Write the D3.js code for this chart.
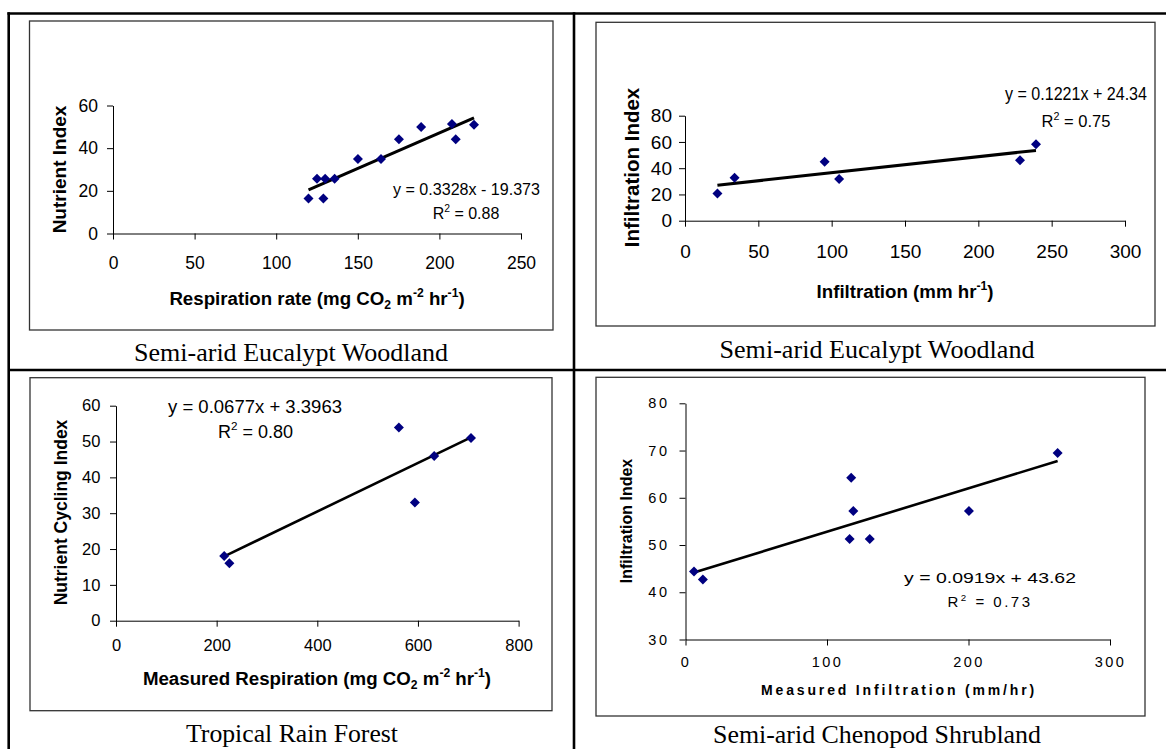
<!DOCTYPE html>
<html>
<head>
<meta charset="utf-8">
<script src="https://cdn.jsdelivr.net/npm/d3@7"></script>
<style>
  body { margin: 0; background: #fff; }
  svg { display: block; }
  text { font-family: "Liberation Sans", Arial, sans-serif; fill: #000; white-space: pre; }
  .caption { font-family: "Liberation Serif", "Times New Roman", serif; }
  .frame { fill: none; stroke: #333; stroke-width: 1.3; }
  .grid-line { stroke: #000; stroke-width: 2.6; }
  .axis path, .axis line { stroke: #000; stroke-width: 1; }
</style>
</head>
<body>
<svg id="chart" width="1166" height="749"></svg>
<script>
// ---- data ----
const respRate        = [119.8, 125, 128.9, 130, 135.8, 150.1, 164.2, 175.2, 188.8, 207.7, 210, 221.2];
const nutrientIndex   = [16.4, 25.7, 16.4, 25.7, 25.7, 34.9, 34.9, 44.2, 49.9, 51.3, 44.2, 51];

const infiltration      = [22.1, 33.8, 95.2, 105.1, 228.4, 239.3];
const infiltrationIndex = [20.8, 32.8, 45, 31.7, 46, 58.2];

const measuredResp    = [215, 225.3, 562.1, 593.9, 632.3, 705.4];
const nutrientCycling = [18.05, 16, 53.95, 33, 45.95, 50.98];

const measuredInfil   = [6, 12.3, 116, 117.1, 118.6, 130.2, 200.3, 263];
const shrubInfilIndex = [44.4, 42.7, 51.3, 64.25, 57.2, 51.3, 57.2, 69.5];

const slopes     = [0.3328, 0.1221, 0.0677, 0.0919];
const intercepts = [-19.373, 24.34, 3.3963, 43.62];
const equations  = ['y = 0.3328x - 19.373', 'y = 0.1221x + 24.34', 'y = 0.0677x + 3.3963', 'y = 0.0919x + 43.62'];
const rSquared   = ['0.88', '0.75', '0.80', '0.73'];

const xDomains = [[0, 250], [0, 300], [0, 800], [0, 300]];
const yDomains = [[0, 60], [0, 80], [0, 60], [30, 80]];
const xTickValues = [[0, 50, 100, 150, 200, 250], [0, 50, 100, 150, 200, 250, 300], [0, 200, 400, 600, 800], [0, 100, 200, 300]];
const yTickValues = [[0, 20, 40, 60], [0, 20, 40, 60, 80], [0, 10, 20, 30, 40, 50, 60], [30, 40, 50, 60, 70, 80]];

const xTitles = [
    [['Respiration rate (mg CO'], ['2', 'sub'], [' m'], ['-2', 'sup'], [' hr'], ['-1', 'sup'], [')']],
    [['Infiltration (mm hr'], ['-1', 'sup'], [')']],
    [['Measured Respiration (mg CO'], ['2', 'sub'], [' m'], ['-2', 'sup'], [' hr'], ['-1', 'sup'], [')']],
    [['Measured Infiltration (mm/hr)']]
];
const yTitles  = ['Nutrient Index', 'Infiltration Index', 'Nutrient Cycling Index', 'Infiltration Index'];
const captions = ['Semi-arid Eucalypt Woodland', 'Semi-arid Eucalypt Woodland', 'Tropical Rain Forest', 'Semi-arid Chenopod Shrubland'];

const xSeries = [respRate, infiltration, measuredResp, measuredInfil];
const ySeries = [nutrientIndex, infiltrationIndex, nutrientCycling, shrubInfilIndex];

// ---- layout (pixels) ----
const layouts = [
    {frame: [29.5, 21, 553, 330], xr: [113, 521], yr: [233.5, 105.5], tickFs: 17.5, ls: 0, yPad: 9, xPad: 16.6,
     eq: {x: 466.5, y: 195, fs: 16, len: 147}, r2: {x: 466, y: 219, fs: 16},
     xt: {x: 317, y: 305, fs: 18.7}, yt: {x: 66, y: 169.5, fs: 19}, cap: {x: 291, y: 361, len: 314}, trend: 3},
    {frame: [596, 22.3, 1155, 326], xr: [685, 1125], yr: [220.7, 115.7], tickFs: 19, ls: 0, yPad: 7, xPad: 18,
     eq: {x: 1076, y: 100, fs: 17.5, len: 142}, r2: {x: 1076, y: 127, fs: 16.5},
     xt: {x: 905, y: 298, fs: 18.7}, yt: {x: 639, y: 167.5, fs: 20.5}, cap: {x: 877, y: 358, len: 315}, trend: 3},
    {frame: [30, 377.7, 552, 710.7], xr: [116, 518.6], yr: [620.7, 405.7], tickFs: 16.5, ls: 0, yPad: 9.6, xPad: 12.3,
     eq: {x: 255, y: 413, fs: 18, len: 174}, r2: {x: 255.5, y: 438, fs: 18},
     xt: {x: 317, y: 685, fs: 18.7}, yt: {x: 67, y: 512.5, fs: 17.5}, cap: {x: 292, y: 742, len: 212}, trend: 2.6},
    {frame: [596, 377.3, 1145, 716], xr: [685.5, 1110], yr: [639.5, 403.3], tickFs: 14.5, ls: 2.5, yPad: 10, xPad: 11,
     eq: {x: 990, y: 583, fs: 15, len: 172}, r2: {x: 990, y: 607, fs: 15},
     xt: {x: 897.6, y: 695, fs: 14, len: 273}, yt: {x: 632, y: 521, fs: 16}, cap: {x: 877, y: 743, len: 328}, trend: 2.6}
];

const svg = d3.select('#chart');
svg.append('rect').attr('width', 1166).attr('height', 749).attr('fill', '#fff');

// text with sub/superscript pieces
function richText(parent, x, y, parts, fs) {
    var t = parent.append('text').attr('x', x).attr('y', y).attr('font-size', fs);
    var shift = 0;
    parts.forEach(function (p) {
        var target = p[1] === 'sup' ? -0.42 * fs : (p[1] === 'sub' ? 0.22 * fs : 0);
        t.append('tspan')
            .attr('dy', target - shift)
            .attr('font-size', p[1] ? fs * 0.65 : fs)
            .text(p[0]);
        shift = target;
    });
    return t;
}

function drawPanel(i) {
    var L = layouts[i];
    var g = svg.append('g').classed('panel', true);

    g.append('rect').classed('frame', true)
        .attr('x', L.frame[0]).attr('y', L.frame[1])
        .attr('width', L.frame[2] - L.frame[0]).attr('height', L.frame[3] - L.frame[1]);

    var x = d3.scaleLinear().domain(xDomains[i]).range(L.xr);
    var y = d3.scaleLinear().domain(yDomains[i]).range(L.yr);

    var xAxis = g.append('g').classed('axis', true)
        .attr('transform', 'translate(0,' + L.yr[0] + ')')
        .call(d3.axisBottom(x).tickValues(xTickValues[i]).tickSize(6).tickSizeOuter(0).tickPadding(L.xPad));
    var yAxis = g.append('g').classed('axis', true)
        .attr('transform', 'translate(' + L.xr[0] + ',0)')
        .call(d3.axisLeft(y).tickValues(yTickValues[i]).tickSize(6).tickSizeOuter(0).tickPadding(L.yPad));

    [xAxis, yAxis].forEach(function (a) {
        a.attr('font-family', null).attr('font-size', null);
        a.selectAll('text')
            .attr('font-size', L.tickFs)
            .style('letter-spacing', L.ls + 'px');
    });

    // trend line over the range of the data
    var xs = xSeries[i];
    var x0 = d3.min(xs), x1 = d3.max(xs);
    g.append('line')
        .attr('x1', x(x0)).attr('y1', y(slopes[i] * x0 + intercepts[i]))
        .attr('x2', x(x1)).attr('y2', y(slopes[i] * x1 + intercepts[i]))
        .attr('stroke', '#000').attr('stroke-width', L.trend);

    var r = 5;
    g.selectAll('.pt').data(xs.map(function (d, k) { return [d, ySeries[i][k]]; }))
        .enter().append('path').classed('pt', true)
        .attr('d', 'M0,' + (-r) + 'L' + r + ',0L0,' + r + 'L' + (-r) + ',0Z')
        .attr('transform', function (d) { return 'translate(' + x(d[0]) + ',' + y(d[1]) + ')'; })
        .attr('fill', '#000080');

    // regression label
    g.append('text')
        .attr('x', L.eq.x).attr('y', L.eq.y)
        .attr('text-anchor', 'middle').attr('font-size', L.eq.fs)
        .attr('textLength', L.eq.len).attr('lengthAdjust', 'spacingAndGlyphs')
        .text(equations[i]);
    richText(g, L.r2.x, L.r2.y, [['R'], ['2', 'sup'], [' = ' + rSquared[i]]], L.r2.fs)
        .attr('text-anchor', 'middle')
        .style('letter-spacing', L.ls + 'px');

    // axis titles
    var xt = richText(g, L.xt.x, L.xt.y, xTitles[i], L.xt.fs)
        .attr('text-anchor', 'middle').attr('font-weight', 'bold');
    if (L.xt.len) xt.attr('textLength', L.xt.len).attr('lengthAdjust', 'spacing');

    g.append('text')
        .attr('transform', 'translate(' + L.yt.x + ',' + L.yt.y + ') rotate(-90)')
        .attr('text-anchor', 'middle').attr('font-weight', 'bold')
        .attr('font-size', L.yt.fs)
        .text(yTitles[i]);

    g.append('text').classed('caption', true)
        .attr('x', L.cap.x).attr('y', L.cap.y)
        .attr('text-anchor', 'middle').attr('font-size', 25.8)
        .attr('textLength', L.cap.len).attr('lengthAdjust', 'spacingAndGlyphs')
        .text(captions[i]);
}

// table rules
var rules = svg.append('g');
rules.append('line').classed('grid-line', true).attr('x1', 7.4).attr('x2', 1166).attr('y1', 13.5).attr('y2', 13.5);
rules.append('line').classed('grid-line', true).attr('x1', 8.7).attr('x2', 8.7).attr('y1', 12.2).attr('y2', 749);
rules.append('line').classed('grid-line', true).attr('x1', 574).attr('x2', 574).attr('y1', 12.2).attr('y2', 749);
rules.append('line').classed('grid-line', true).attr('x1', 8.7).attr('x2', 1166).attr('y1', 370).attr('y2', 370);

for (var i = 0; i < layouts.length; i++) drawPanel(i);
</script>
</body>
</html>
